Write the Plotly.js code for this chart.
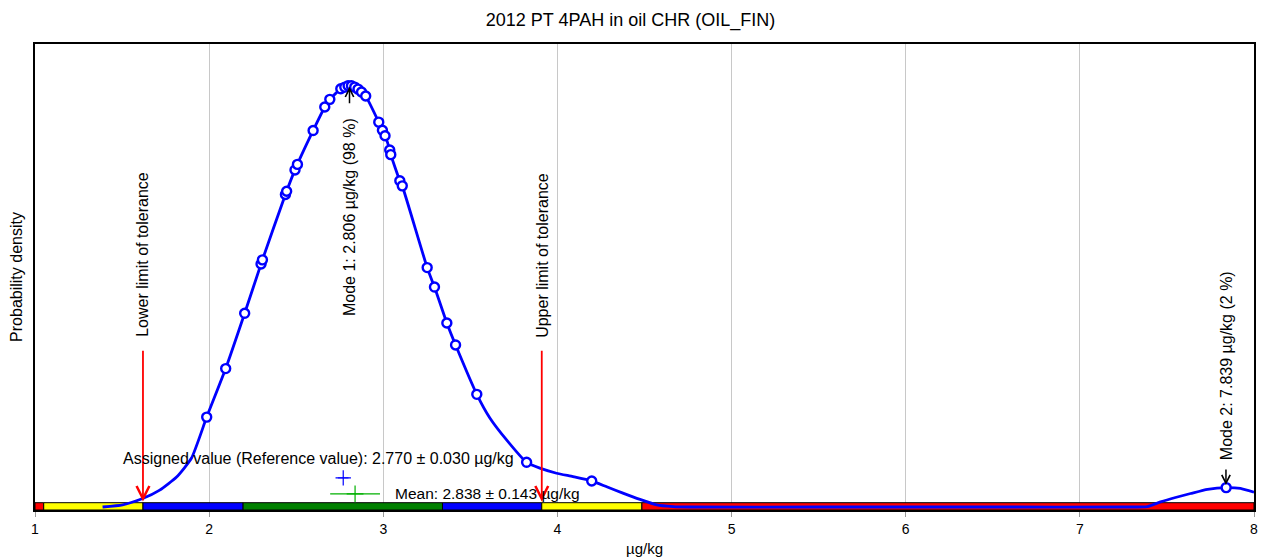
<!DOCTYPE html>
<html>
<head>
<meta charset="utf-8">
<script src="https://cdn.plot.ly/plotly-3.0.1.min.js"></script>
<style>html,body{margin:0;padding:0;background:#fff;}#chart{width:1261px;height:560px;}</style>
</head>
<body>
<div id="chart"></div>
<script>
// ---- data ----
const chartTitle = "2012 PT 4PAH in oil CHR (OIL_FIN)";
const unit = "µg/kg";

// kernel density curve (x in µg/kg, relative density)
const curveX = [1.388,1.503,1.618,1.716,1.813,1.899,1.986,2.095,2.204,2.302,2.440,2.497,2.598,2.664,2.693,2.756,2.796,2.807,2.819,2.836,2.853,2.876,2.899,2.974,2.997,3.011,3.037,3.043,3.095,3.109,3.253,3.296,3.365,3.417,3.537,3.612,3.708,3.825,3.899,3.995,4.089,4.195,4.283,4.376,4.474,4.570,4.664,4.761,5.5,6.5,7.250,7.388,7.463,7.549,7.636,7.733,7.842,7.922,8.0];
const curveY = [0,0.005,0.020,0.040,0.071,0.116,0.213,0.328,0.459,0.581,0.743,0.803,0.893,0.948,0.966,0.991,0.998,1.000,0.998,0.995,0.991,0.983,0.974,0.912,0.891,0.879,0.846,0.835,0.773,0.761,0.566,0.519,0.436,0.382,0.267,0.211,0.159,0.105,0.092,0.080,0.072,0.062,0.048,0.033,0.018,0.005,0.001,0,0,0,0,0.001,0.012,0.0225,0.032,0.042,0.046,0.044,0.035];

// participant results (µg/kg)
const results = [1.986,2.095,2.204,2.298,2.306,2.438,2.445,2.493,2.507,2.597,2.664,2.693,2.756,2.779,2.798,2.817,2.836,2.855,2.875,2.899,2.974,2.995,3.010,3.037,3.043,3.095,3.109,3.252,3.294,3.365,3.415,3.537,3.823,4.197,7.840];

const assignedValue = 2.770, assignedUnc = 0.030;
const meanValue = 2.838, meanUnc = 0.143;
const lowerLimit = 1.62, upperLimit = 3.91;
const modes = [{value: 2.806, share: 98}, {value: 7.839, share: 2}];

// z-score band edges and colours
const bandEdges = [1.0, 1.05, 1.62, 2.195, 3.34, 3.91, 4.485, 8.0];
const bandColors = ["#ff0000","#ffff00","#0000ff","#008000","#0000ff","#ffff00","#ff0000"];

const xTicks = [1,2,3,4,5,6,7,8];

// ---- helpers ----
function densityAt(x){
  for (let i=0;i<curveX.length-1;i++){
    if (x>=curveX[i] && x<=curveX[i+1]){
      const t=(x-curveX[i])/(curveX[i+1]-curveX[i]);
      return curveY[i]+t*(curveY[i+1]-curveY[i]);
    }
  }
  return 0;
}
const FONT = "Liberation Sans, Arial, sans-serif";
const yMin = -0.0071, yMax = 1.0972, bandTop = 0.0102;

const traces = [
  {x: curveX, y: curveY, mode: "lines", line: {color: "#0000ff", width: 2.8, shape: "spline", smoothing: 0.5}, hoverinfo: "skip"},
  {x: results, y: results.map(densityAt), mode: "markers",
   marker: {symbol: "circle", size: 9, color: "#ffffff", line: {color: "#0000ff", width: 2.4}}},
  {x: [assignedValue], y: [0.069], mode: "markers",
   marker: {symbol: "cross-thin", size: 11, line: {color: "#0000ff", width: 1.2}},
   error_x: {type: "data", array: [assignedUnc], color: "#0000ff", thickness: 1, width: 0}},
  {x: [meanValue], y: [0.031], mode: "markers",
   marker: {symbol: "cross-thin", size: 12, line: {color: "#00b000", width: 1.2}},
   error_x: {type: "data", array: [meanUnc], color: "#00b000", thickness: 1.2, width: 0}}
];

const shapes = [];
for (let i=0;i<bandColors.length;i++){
  shapes.push({type:"rect", xref:"x", yref:"y", x0: bandEdges[i], x1: bandEdges[i+1], y0: yMin, y1: bandTop,
    fillcolor: bandColors[i], line:{color:"#000000", width:1}, layer:"between"});
}

const annotations = [
  // tolerance arrows
  {x: lowerLimit, y: 0.013, ax: lowerLimit, ay: 0.374, xref:"x", yref:"y", axref:"x", ayref:"y",
   text:"", showarrow:true, arrowhead:5, arrowsize:1.4, arrowwidth:1.8, arrowcolor:"#ff0000"},
  {x: upperLimit, y: 0.013, ax: upperLimit, ay: 0.374, xref:"x", yref:"y", axref:"x", ayref:"y",
   text:"", showarrow:true, arrowhead:5, arrowsize:1.4, arrowwidth:1.8, arrowcolor:"#ff0000"},
  {x: lowerLimit, y: 0.600, text:"Lower limit of tolerance", textangle:-90, showarrow:false,
   font:{family:FONT, size:16, color:"#000"}},
  {x: upperLimit, y: 0.597, text:"Upper limit of tolerance", textangle:-90, showarrow:false,
   font:{family:FONT, size:16, color:"#000"}},
  // modes
  {x: modes[0].value, y: densityAt(modes[0].value)-0.004, ax: 0, ay: 18, text:"", showarrow:true,
   arrowhead:5, arrowsize:1.1, arrowwidth:1.5, arrowcolor:"#000"},
  {x: modes[0].value, y: 0.686, text:"Mode 1: " + modes[0].value.toFixed(3) + " " + unit + " (" + modes[0].share + " %)",
   textangle:-90, showarrow:false, font:{family:FONT, size:16, color:"#000"}},
  {x: modes[1].value, y: densityAt(modes[1].value)+0.006, ax: 0, ay: -17, text:"", showarrow:true,
   arrowhead:5, arrowsize:1.1, arrowwidth:1.5, arrowcolor:"#000"},
  {x: modes[1].value, y: 0.336, text:"Mode 2: " + modes[1].value.toFixed(3) + " " + unit + " (" + modes[1].share + " %)",
   textangle:-90, showarrow:false, font:{family:FONT, size:16, color:"#000"}},
  // assigned value / mean labels
  {x: 2.626, y: 0.114, text:"Assigned value (Reference value): " + assignedValue.toFixed(3) + " ± " + assignedUnc.toFixed(3) + " " + unit,
   showarrow:false, font:{family:FONT, size:16, color:"#000"}},
  {x: 3.054, y: 0.033, xanchor:"left", text:"Mean: " + meanValue.toFixed(3) + " ± " + meanUnc.toFixed(3) + " " + unit,
   showarrow:false, font:{family:FONT, size:15.5, color:"#000"}}
];

const layout = {
  width: 1261, height: 560,
  margin: {l: 35, r: 7, t: 44, b: 50},
  paper_bgcolor: "#ffffff", plot_bgcolor: "#ffffff",
  showlegend: false,
  font: {family: FONT, color: "#000"},
  title: {text: chartTitle, x: 0.5, xref: "container", xanchor: "center", y: 0.964, yref: "container", yanchor: "middle",
          font: {family: FONT, size: 18, color: "#000"}},
  xaxis: {range: [1, 8], tickvals: xTicks, ticktext: xTicks.map(String), showgrid: true, gridcolor: "#c8c8c8", gridwidth: 1,
          zeroline: false, showline: true, mirror: true, linecolor: "#000", linewidth: 2,
          ticks: "outside", ticklen: 5, tickcolor: "#999", tickfont: {family: FONT, size: 14, color: "#000"},
          title: {text: unit, font: {family: FONT, size: 15, color: "#000"}, standoff: 8}},
  yaxis: {range: [yMin, yMax], showticklabels: false, ticks: "", showgrid: false, zeroline: false,
          showline: true, mirror: true, linecolor: "#000", linewidth: 2,
          title: {text: "Probability density", font: {family: FONT, size: 16, color: "#000"}, standoff: 6}},
  shapes: shapes,
  annotations: annotations
};

Plotly.newPlot("chart", traces, layout, {displayModeBar: false, staticPlot: true});
</script>
</body>
</html>
